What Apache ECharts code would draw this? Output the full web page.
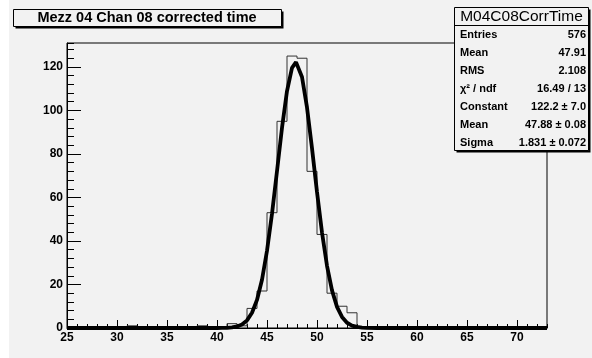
<!DOCTYPE html>
<html>
<head>
<meta charset="utf-8">
<script src="https://cdn.jsdelivr.net/npm/echarts@6/dist/echarts.min.js"></script>
<style>
  html, body { margin: 0; padding: 0; background: #fff; }
  #chart { width: 592px; height: 358px; }
</style>
</head>
<body>
<div id="chart"></div>
<script>
// histogram: 1-unit bins from 25 to 73
const binLow = [25, 26, 27, 28, 29, 30, 31, 32, 33, 34, 35, 36, 37, 38, 39, 40, 41, 42, 43, 44, 45, 46, 47, 48,
  49, 50, 51, 52, 53, 54, 55, 56, 57, 58, 59, 60, 61, 62, 63, 64, 65, 66, 67, 68, 69, 70, 71, 72, 73];
const binCounts = [0, 0, 0, 0, 0, 0, 1, 0, 0, 0, 0, 0, 0, 1, 0, 0, 2, 1, 9, 17, 53, 95, 125, 124,
  72, 43, 16, 10, 7, 0, 0, 0, 0, 0, 0, 0, 0, 0, 0, 0, 0, 0, 0, 0, 0, 0, 0, 0, 0];

// gaussian fit curve
const fitX = [25, 40, 40.5, 41, 41.5, 42, 42.5, 43, 43.5, 44, 44.5, 45, 45.5, 46, 46.5, 47, 47.5, 47.9,
  48, 48.5, 49, 49.5, 50, 50.5, 51, 51.5, 52, 52.5, 53, 53.5, 54, 54.5, 55, 56, 73];
const fitY = [0, 0, 0.03, 0.1, 0.3, 0.7, 1.6, 3.5, 7.0, 12.9, 22.2, 35.5, 52.5, 72.1, 92.0, 108.9, 119.6, 122.2,
  121.9, 115.4, 101.4, 82.6, 62.5, 43.9, 28.6, 17.3, 9.7, 5.1, 2.4, 1.1, 0.5, 0.2, 0.05, 0, 0];

const xTicks = [25, 73];
const yTicks = [0, 131];

const histTitle = 'Mezz 04 Chan 08 corrected time';
const statsName = 'M04C08CorrTime';
const statsLabels = ['Entries', 'Mean', 'RMS', 'χ² / ndf', 'Constant', 'Mean', 'Sigma'];
const statsValues = ['576', '47.91', '2.108', '16.49 / 13', '122.2 ± 7.0', '47.88 ± 0.08', '1.831 ± 0.072'];

const font = 'Liberation Sans, Arial, Helvetica, sans-serif';
const pad = '#f2f2f2';

const histData = binLow.map((x, i) => [x, binCounts[i]]);
const fitData = fitX.map((x, i) => [x, fitY[i]]);

const majorX = {
  type: 'value', min: xTicks[0], max: xTicks[1], interval: 5, position: 'bottom',
  axisLine: { show: true, onZero: false, lineStyle: { color: '#000', width: 1 } },
  axisTick: { show: true, inside: true, length: 8, lineStyle: { color: '#000' } },
  axisLabel: { show: true, margin: 4, color: '#000', fontFamily: font, fontWeight: 'bold', fontSize: 12, showMaxLabel: false },
  splitLine: { show: false }
};
const minorX = {
  type: 'value', min: xTicks[0], max: xTicks[1], interval: 1, position: 'bottom',
  axisLine: { show: false },
  axisTick: { show: true, inside: true, length: 4, lineStyle: { color: '#000' } },
  axisLabel: { show: false },
  splitLine: { show: false }
};
const majorY = {
  type: 'value', min: yTicks[0], max: yTicks[1], interval: 20, position: 'left',
  axisLine: { show: true, onZero: false, lineStyle: { color: '#000', width: 1 } },
  axisTick: { show: true, inside: true, length: 14, lineStyle: { color: '#000' } },
  axisLabel: { show: true, margin: 4, color: '#000', fontFamily: font, fontWeight: 'bold', fontSize: 12, showMaxLabel: false },
  splitLine: { show: false }
};
const minorY = {
  type: 'value', min: yTicks[0], max: yTicks[1], interval: 4, position: 'left',
  axisLine: { show: false },
  axisTick: { show: true, inside: true, length: 7, lineStyle: { color: '#000' } },
  axisLabel: { show: false },
  splitLine: { show: false }
};

// boxes with the ROOT-style drop shadow
const box = (x, y, w, h) => [
  { type: 'rect', shape: { x: x + 2, y: y + 2, width: w, height: h }, style: { fill: '#000' }, z: 10 },
  { type: 'rect', shape: { x: x, y: y, width: w, height: h }, style: { fill: pad, stroke: '#000', lineWidth: 1 }, z: 11 }
];

const graphics = [
  { type: 'rect', shape: { x: 9, y: 0, width: 583, height: 358 }, style: { fill: pad }, z: -10, silent: true },
  ...box(13.5, 9.5, 268, 17),
  { type: 'text', x: 147, y: 18, z: 12,
    style: { text: histTitle, font: 'bold 14.5px ' + font, fill: '#000', textAlign: 'center', textVerticalAlign: 'middle' } },
  ...box(454.5, 7.5, 134, 143),
  { type: 'line', shape: { x1: 454.5, y1: 25.5, x2: 588.5, y2: 25.5 }, style: { stroke: '#000', lineWidth: 1 }, z: 12 },
  { type: 'text', x: 521.5, y: 16.5, z: 12,
    style: { text: statsName, font: '15.5px ' + font, fill: '#000', textAlign: 'center', textVerticalAlign: 'middle' } }
];
statsLabels.forEach((label, i) => {
  const y = 34.5 + i * 18;
  graphics.push({ type: 'text', x: 460, y: y, z: 12,
    style: { text: label, font: 'bold 11px ' + font, fill: '#000', textAlign: 'left', textVerticalAlign: 'middle' } });
  graphics.push({ type: 'text', x: 586, y: y, z: 12,
    style: { text: statsValues[i], font: 'bold 11px ' + font, fill: '#000', textAlign: 'right', textVerticalAlign: 'middle' } });
});

const chart = echarts.init(document.getElementById('chart'), null, { renderer: 'canvas' });
chart.setOption({
  animation: false,
  backgroundColor: '#fff',
  grid: {
    left: 67, right: 45, top: 43, bottom: 30,
    show: true, borderColor: '#000', borderWidth: 1, backgroundColor: 'transparent'
  },
  xAxis: [majorX, minorX],
  yAxis: [majorY, minorY],
  series: [
    {
      name: 'hist', type: 'line', step: 'end', data: histData,
      xAxisIndex: 0, yAxisIndex: 0, symbol: 'none',
      lineStyle: { color: '#333', width: 1 }, z: 3
    },
    {
      name: 'fit', type: 'line', data: fitData,
      xAxisIndex: 0, yAxisIndex: 0, symbol: 'none',
      lineStyle: { color: '#000', width: 3.8 }, z: 4
    }
  ],
  graphic: graphics
});
</script>
</body>
</html>
